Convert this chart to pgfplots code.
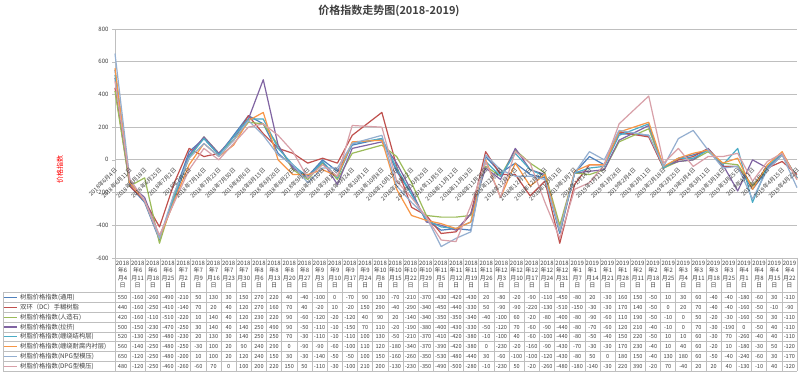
\documentclass[border=0pt]{standalone}
\usepackage{pgfplots}
\pgfplotsset{compat=1.18}
\usepackage{pgfplotstable}
\usepackage{fontspec}
\setmainfont{Noto Sans CJK SC}[BoldFont={Noto Sans CJK SC Bold}]
\definecolor{c1}{HTML}{4F81BD}
\definecolor{c2}{HTML}{C0504D}
\definecolor{c3}{HTML}{9BBB59}
\definecolor{c4}{HTML}{8064A2}
\definecolor{c5}{HTML}{4BACC6}
\definecolor{c6}{HTML}{F79646}
\definecolor{c7}{HTML}{94AFD0}
\definecolor{c8}{HTML}{D8A0A8}
\definecolor{gridc}{HTML}{BFBFBF}
\definecolor{txt}{HTML}{404040}

\pgfplotstableread{
x yr mo dy a b c d e f g h
0 2018 6 4 550 440 420 500 520 560 650 480
1 2018 6 11 -160 -160 -160 -150 -130 -140 -120 -120
2 2018 6 18 -260 -250 -110 -230 -250 -250 -250 -250
3 2018 6 25 -490 -410 -510 -470 -480 -480 -480 -460
4 2018 7 2 -210 -140 -220 -250 -230 -250 -200 -260
5 2018 7 9 50 70 10 30 20 -30 10 -60
6 2018 7 16 130 20 140 140 130 100 100 70
7 2018 7 23 30 40 40 40 30 20 20 0
8 2018 7 30 150 120 120 140 140 90 120 100
9 2018 8 6 270 270 230 250 250 240 240 200
10 2018 8 13 220 160 220 490 250 290 150 220
11 2018 8 20 40 70 90 90 70 0 30 150
12 2018 8 27 -40 40 -60 -50 -30 -90 -30 50
13 2018 9 3 -100 -20 -120 -110 -110 -90 -140 -110
14 2018 9 10 0 10 -20 -10 -10 -60 -50 -30
15 2018 9 17 -70 -20 -120 -150 -110 -100 -50 -100
16 2018 9 24 90 150 40 70 100 110 100 210
18 2018 10 8 130 290 90 110 130 120 150 200
19 2018 10 15 -70 -40 20 -20 -50 -180 -160 -130
20 2018 10 22 -210 -290 -140 -190 -210 -340 -260 -230
21 2018 10 29 -370 -340 -340 -380 -370 -370 -350 -350
22 2018 11 5 -430 -450 -350 -400 -410 -390 -530 -490
23 2018 11 12 -420 -440 -350 -430 -420 -420 -480 -500
24 2018 11 19 -430 -330 -340 -330 -380 -380 -440 -280
25 2018 11 26 20 50 -40 -50 -10 0 30 -10
26 2018 12 3 -80 -90 -100 -120 -100 -230 -60 -230
27 2018 12 10 -20 -90 60 70 40 -20 -100 50
28 2018 12 17 -90 -220 -20 -60 -60 -160 -100 -20
29 2018 12 24 -110 -130 -80 -90 -100 -90 -120 -260
30 2018 12 31 -450 -510 -400 -440 -440 -430 -430 -480
31 2019 1 7 -80 -150 -80 -80 -80 -70 -80 -180
32 2019 1 14 20 -30 -90 -70 -50 -30 50 -140
33 2019 1 21 -30 -30 -60 -60 -40 -30 0 -30
34 2019 1 28 160 170 110 120 150 170 180 220
36 2019 2 11 150 140 190 210 220 230 150 390
37 2019 2 18 -50 -50 -50 -40 -50 -40 -40 -20
38 2019 2 25 10 0 -10 -10 10 10 130 70
39 2019 3 4 30 20 0 0 10 40 180 -40
40 2019 3 11 60 70 50 70 60 60 60 20
41 2019 3 18 -40 -40 -20 -30 -30 -20 -50 20
42 2019 3 25 -40 -40 -30 -190 70 10 -40 40
43 2019 4 1 -180 -160 -160 0 -260 -180 -240 -130
44 2019 4 8 -60 -50 -50 -50 -40 -30 -60 -10
45 2019 4 15 30 -10 30 40 40 50 30 40
46 2019 4 22 -110 -90 -110 -110 -110 -120 -170 -120
}\datatable

\begin{document}
\begin{tikzpicture}
\useasboundingbox (0,0) rectangle (800pt,380pt);
\fill[white] (0,0) rectangle (800pt,380pt);
% title
\node[font=\fontsize{11}{12}\selectfont\bfseries, text=txt] at (389pt,369pt) {价格指数走势图(2018-2019)};
% y label
\node[rotate=90, text=red, font=\fontsize{7}{8}\selectfont] at (60pt,210pt) {价格指数};

\begin{axis}[
  at={(115pt,122pt)}, anchor=south west,
  scale only axis, width=682pt, height=229pt,
  xmin=0, xmax=46, ymin=-600, ymax=800,
  axis lines*=left,
  axis line style={draw=gridc, line width=0.8pt, -},
  xtick=\empty,
  ytick={-600,-400,-200,0,200,400,600,800},
  yticklabels={-600,-400,-200,0,200,400,600,800},
  yticklabel style={font=\fontsize{6}{7}\selectfont, text=txt},
  ymajorgrids,
  major grid style={draw=gridc, line width=0.8pt},
  tick style={draw=gridc},
  major tick length=3pt, tick align=outside,
  clip=false,
  every axis plot/.append style={line width=1.2pt, line join=round, no markers},
]
\addplot[c1] table[x=x,y=a]{\datatable};
\addplot[c2] table[x=x,y=b]{\datatable};
\addplot[c3] table[x=x,y=c]{\datatable};
\addplot[c4] table[x=x,y=d]{\datatable};
\addplot[c5] table[x=x,y=e]{\datatable};
\addplot[c6] table[x=x,y=f]{\datatable};
\addplot[c7] table[x=x,y=g]{\datatable};
\addplot[c8] table[x=x,y=h]{\datatable};
\end{axis}

% x labels along the zero line
\foreach \yy/\mm/\dd [count=\i from 0] in {2018/6/4,2018/6/11,2018/6/18,2018/6/25,2018/7/2,2018/7/9,2018/7/16,2018/7/23,2018/7/30,2018/8/6,2018/8/13,2018/8/20,2018/8/27,2018/9/3,2018/9/10,2018/9/17,2018/9/24,2018/10/1,2018/10/8,2018/10/15,2018/10/22,2018/10/29,2018/11/5,2018/11/12,2018/11/19,2018/11/26,2018/12/3,2018/12/10,2018/12/17,2018/12/24,2018/12/31,2019/1/7,2019/1/14,2019/1/21,2019/1/28,2019/2/4,2019/2/11,2019/2/18,2019/2/25,2019/3/4,2019/3/11,2019/3/18,2019/3/25,2019/4/1,2019/4/8,2019/4/15,2019/4/22}{
  \pgfmathsetmacro{\lx}{116+\i*14.82609}
  \node[rotate=45, anchor=east, inner sep=0pt, font=\fontsize{5.8}{6}\selectfont, text=txt] at (\lx pt,211pt) {\yy{}年\mm{}月\dd{}日};
}

% data table grid
\begin{scope}[draw=gridc, line width=0.6pt]
  \foreach \j in {0,...,45}{
    \pgfmathsetmacro{\vx}{115+\j*15.15556}
    \draw (\vx pt,122pt) -- (\vx pt,8.8pt);
  }
  \foreach \k in {0,...,8}{
    \pgfmathsetmacro{\hy}{87.2-\k*9.8}
    \draw (3pt,\hy pt) -- (797pt,\hy pt);
  }
  \draw (3pt,87.2pt) -- (3pt,8.8pt);
\end{scope}

% legend column
\foreach \nm/\cl [count=\k from 0] in {树脂价格指数(通用)/c1,双环（DC）手糊树脂/c2,树脂价格指数(人造石)/c3,树脂价格指数(拉挤)/c4,树脂价格指数(缠绕结构层)/c5,树脂价格指数(缠绕耐腐内衬层)/c6,树脂价格指数(NPG型模压)/c7,树脂价格指数(DPG型模压)/c8}{
  \pgfmathsetmacro{\cy}{87.2-(\k+0.5)*9.8}
  \draw[\cl, line width=1.2pt] (4pt,\cy pt) -- (17pt,\cy pt);
  \node[anchor=west, inner sep=0pt, font=\fontsize{6.3}{7}\selectfont, text=txt] at (20pt,\cy pt) {\nm};
}

% table values
\foreach \r in {0,...,44}{
  \pgfmathsetmacro{\cx}{115+(\r+0.5)*15.15556}
  \pgfplotstablegetelem{\r}{yr}\of\datatable \let\YR\pgfplotsretval
  \pgfplotstablegetelem{\r}{mo}\of\datatable \let\MO\pgfplotsretval
  \pgfplotstablegetelem{\r}{dy}\of\datatable \let\DY\pgfplotsretval
  \node[font=\fontsize{6}{7.4}\selectfont, align=center, inner sep=0pt, text=txt] at (\cx pt,105.5pt) {\YR\\年\MO\\月\DY{}\\日};
  \foreach \col [count=\k from 0] in {a,b,c,d,e,f,g,h}{
    \pgfplotstablegetelem{\r}{\col}\of\datatable
    \pgfmathsetmacro{\cy}{87.2-(\k+0.5)*9.8}
    \node[font=\fontsize{5.6}{6}\selectfont, inner sep=0pt, text=txt] at (\cx pt,\cy pt) {\pgfplotsretval};
  }
}
\end{tikzpicture}
\end{document}
